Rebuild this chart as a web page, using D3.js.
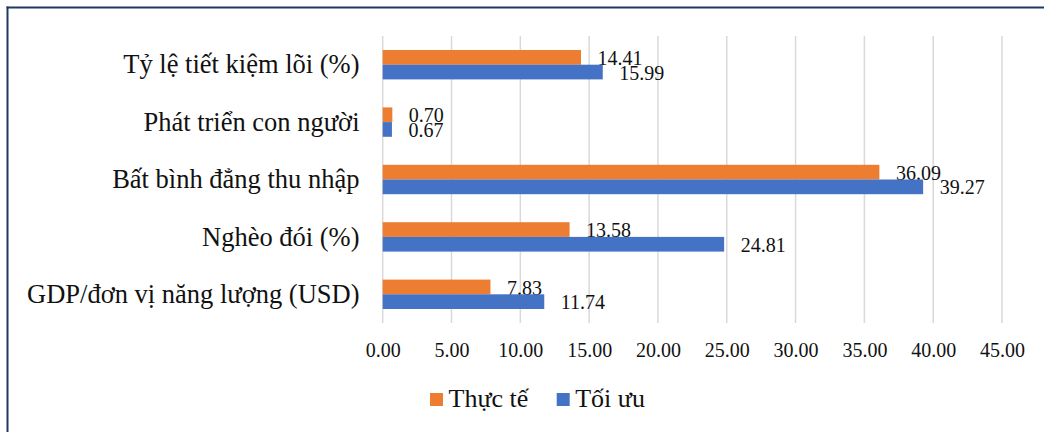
<!DOCTYPE html>
<html><head><meta charset="utf-8">
<script src="https://cdn.jsdelivr.net/npm/d3@7"></script>
<style>body{margin:0;background:#fff}svg{display:block}text{font-family:"Liberation Serif","Times New Roman",serif;fill:#111}</style>
</head><body>
<svg id="c" width="1044" height="432"></svg>
<script>
const categories = ["Tỷ lệ tiết kiệm lõi (%)", "Phát triển con người", "Bất bình đẳng thu nhập", "Nghèo đói (%)", "GDP/đơn vị năng lượng (USD)"];
const thucTe = [14.41, 0.70, 36.09, 13.58, 7.83];
const toiUu = [15.99, 0.67, 39.27, 24.81, 11.74];
const seriesNames = ["Thực tế", "Tối ưu"];
const tickValues = [0, 5, 10, 15, 20, 25, 30, 35, 40, 45];

const colors = ["#ED7D31", "#4472C4"];
const FONT = "'Liberation Serif','Times New Roman',serif";
const svg = d3.select("#c");

// frame lines
svg.append("line").attr("x1", 7.5).attr("x2", 7.5).attr("y1", 6.5).attr("y2", 432).attr("stroke", "#1F3864").attr("stroke-width", 2);
svg.append("line").attr("x1", 6.5).attr("x2", 1044).attr("y1", 7.5).attr("y2", 7.5).attr("stroke", "#1F3864").attr("stroke-width", 2);

const x = d3.scaleLinear().domain([0, 45]).range([382.7, 1002]);
const y = d3.scaleBand().domain(categories).range([36, 323]).paddingInner(0.488).paddingOuter(0.244);
const ys = d3.scaleBand().domain(seriesNames).range([0, y.bandwidth()]);

// gridlines
svg.append("g").selectAll("line").data(tickValues).join("line")
  .attr("x1", d => x(d)).attr("x2", d => x(d)).attr("y1", 36).attr("y2", 323)
  .attr("stroke", "#D9D9D9").attr("stroke-width", 1.5);

// axis tick labels
const xAxis = d3.axisBottom(x).tickValues(tickValues).tickFormat(d3.format(".2f")).tickSize(0).tickPadding(0);
const ax = svg.append("g").attr("transform", "translate(0,356.5)").call(xAxis);
ax.select(".domain").remove();
ax.selectAll("text").attr("dy", null).attr("y", 0).style("font-size", "20px").style("font-family", FONT).attr("fill", "#111");

const seriesData = [thucTe, toiUu];
seriesData.forEach((vals, si) => {
  const g = svg.append("g");
  g.selectAll("rect").data(vals).join("rect")
    .attr("x", x(0))
    .attr("y", (d, i) => y(categories[i]) + ys(seriesNames[si]))
    .attr("width", d => x(d) - x(0))
    .attr("height", ys.bandwidth())
    .attr("fill", colors[si]);
  g.selectAll("text").data(vals).join("text")
    .attr("x", d => x(d) + 16.5)
    .attr("y", (d, i) => y(categories[i]) + ys(seriesNames[si]) + ys.bandwidth() + 0.3)
    .style("font-size", "20px")
    .style("font-family", FONT)
    .text(d => d.toFixed(2));
});

// category labels
const yAxis = d3.axisLeft(y).tickSize(0).tickPadding(0);
const ay = svg.append("g").attr("transform", "translate(359.5,0)").call(yAxis);
ay.select(".domain").remove();
ay.selectAll("text").attr("dy", "0.33em").style("font-size", "26.5px").style("font-family", FONT).attr("fill", "#111");

// legend
const legX = [430, 556.7];
const leg = svg.append("g");
seriesNames.forEach((n, i) => {
  leg.append("rect").attr("x", legX[i]).attr("y", 393).attr("width", 13).attr("height", 13).attr("fill", colors[i]);
  leg.append("text").attr("x", legX[i] + 18.5).attr("y", 407).style("font-size", "26px").style("font-family", FONT).text(n);
});
</script>
</body></html>
